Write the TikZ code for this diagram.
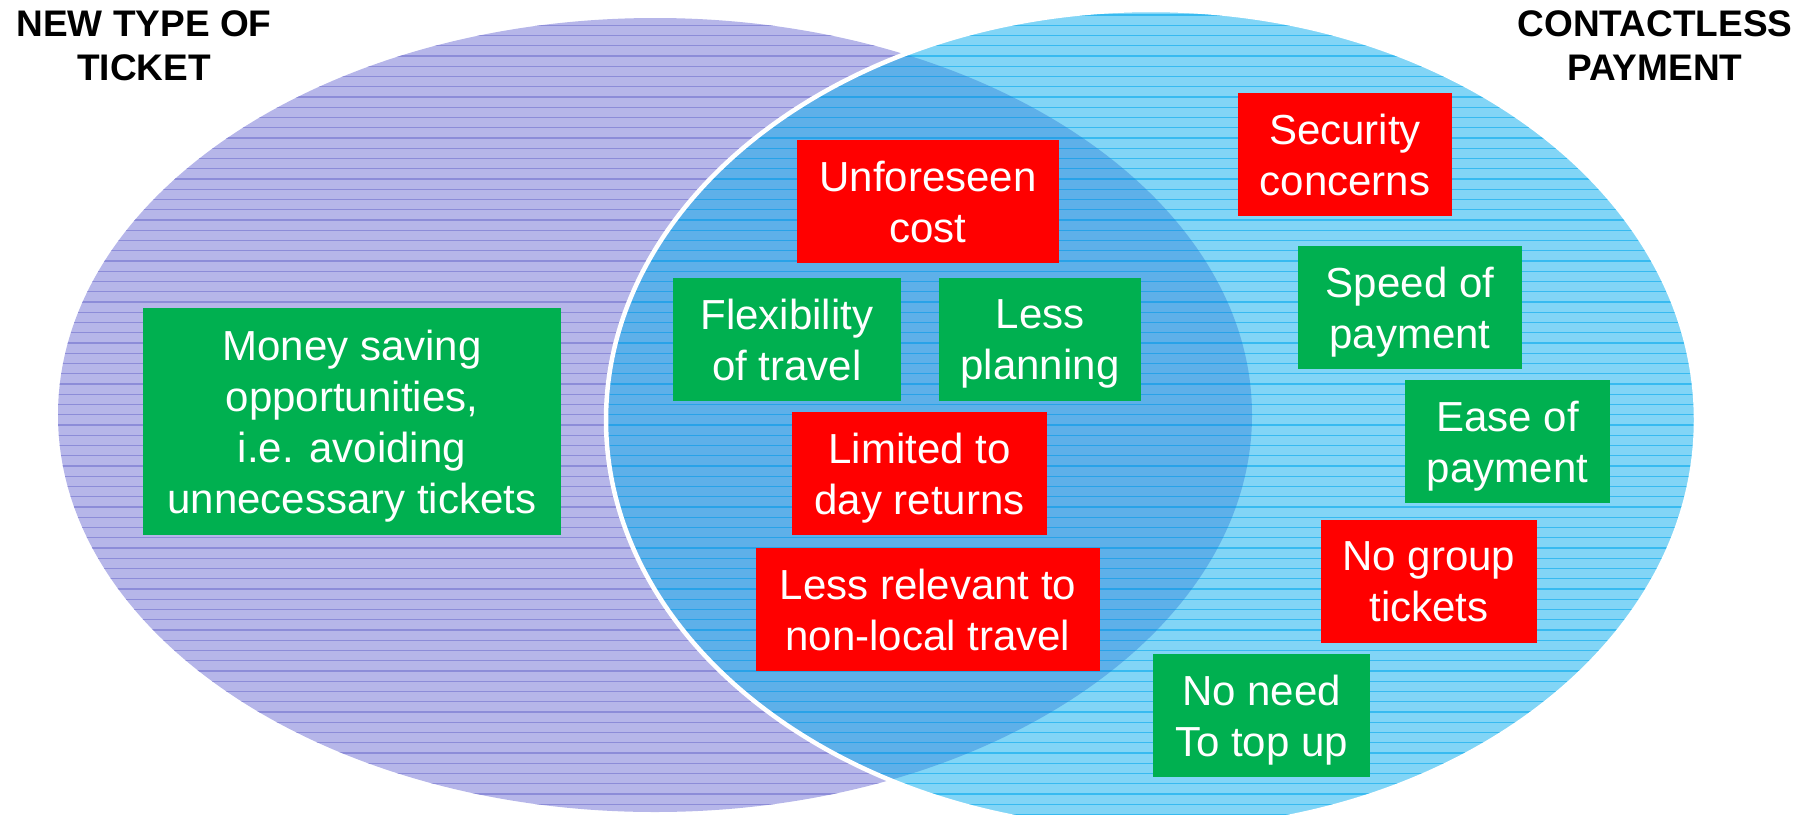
\documentclass[tikz,border=0pt]{standalone}
\usepackage{fontspec}
\setmainfont{Liberation Sans}
\definecolor{purpfill}{RGB}{182,182,233}
\definecolor{purpline}{RGB}{140,140,216}
\definecolor{ltfill}{RGB}{130,213,246}
\definecolor{ltline}{RGB}{55,186,240}
\definecolor{ovfill}{RGB}{94,176,233}
\definecolor{ovline}{RGB}{40,162,232}
\definecolor{boxgreen}{RGB}{0,176,80}
\definecolor{boxred}{RGB}{255,0,0}
\newcommand\myhatch[1]{\foreach \k in {0,...,80}{\draw[#1,line width=1.1pt] (0,{4.75+10.25*\k}) -- (1812,{4.75+10.25*\k});}}
\tikzset{
  itembox/.style={inner sep=0pt, align=center, text=white, text depth=0pt,
    font=\fontsize{42}{51}\selectfont},
  goodbox/.style={itembox, fill=boxgreen},
  badbox/.style={itembox, fill=boxred},
  heading/.style={align=center, text depth=0pt, font=\fontsize{37}{44}\selectfont\bfseries}
}
\begin{document}
\begin{tikzpicture}[x=1pt,y=-1pt]
\useasboundingbox (0,0) rectangle (1812,814);
\clip (0,0) rectangle (1812,814);
% left ellipse
\fill[purpfill] (655,415) ellipse [x radius=597, y radius=397];
\begin{scope}
  \clip (655,415) ellipse [x radius=597, y radius=397];
  \myhatch{purpline}
\end{scope}
% right ellipse
\fill[ltfill] (1151,420) ellipse [x radius=545, y radius=410];
\begin{scope}
  \clip (1151,420) ellipse [x radius=545, y radius=410];
  \myhatch{ltline}
\end{scope}
% overlap
\begin{scope}
  \clip (655,415) ellipse [x radius=597, y radius=397];
  \clip (1151,420) ellipse [x radius=545, y radius=410];
  \fill[ovfill] (0,0) rectangle (1812,814);
  \myhatch{ovline}
\end{scope}
\draw[white, line width=4.5pt] (1151,420) ellipse [x radius=545, y radius=410];

% headings
\node[heading] (hleft) at (144,45.5) {NEW TYPE OF\\TICKET};
\node[heading] (hright) at (1655,45.5) {CONTACTLESS\\PAYMENT};

% boxes
\node[goodbox, minimum width=418, minimum height=227] (money) at (352,421.5)
  {Money saving\\opportunities,\\i.e. avoiding\\unnecessary tickets};
\node[badbox, minimum width=262, minimum height=123] (unfore) at (928,201.5) {Unforeseen\\cost};
\node[goodbox, minimum width=228, minimum height=123] (flex) at (787,339.5) {Flexibility\\of travel};
\node[goodbox, minimum width=202, minimum height=123] (lessplan) at (1040,339.5) {Less\\planning};
\node[badbox, minimum width=255, minimum height=123] (limited) at (919.5,473.5) {Limited to\\day returns};
\node[badbox, minimum width=344, minimum height=123] (lessrel) at (928,609.5) {Less relevant to\\non-local travel};
\node[badbox, minimum width=214, minimum height=123] (security) at (1345,154.5) {Security\\concerns};
\node[goodbox, minimum width=224, minimum height=123] (speed) at (1410,307.5) {Speed of\\payment};
\node[goodbox, minimum width=205, minimum height=123] (ease) at (1507.5,441.5) {Ease of\\payment};
\node[badbox, minimum width=216, minimum height=123] (group) at (1429,581.5) {No group\\tickets};
\node[goodbox, minimum width=217, minimum height=123] (topup) at (1261.5,715.5) {No need\\To top up};
\end{tikzpicture}
\end{document}
